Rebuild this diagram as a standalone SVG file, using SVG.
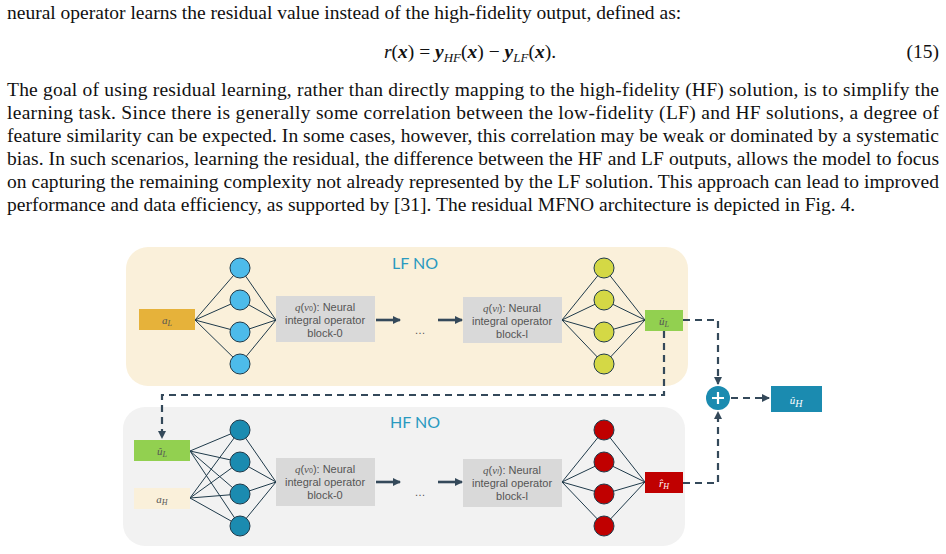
<svg xmlns="http://www.w3.org/2000/svg" width="946" height="554" viewBox="0 0 946 554">
<style>
.p{font-family:"Liberation Serif",serif;font-size:19.5px;fill:#111}
.m{font-family:"Liberation Serif",serif;font-style:italic}
.c{stroke:#1f3a4a;stroke-width:1;fill:none}
.blk{fill:#d9d9d9}
.bt{font-family:"Liberation Sans",sans-serif;font-size:11px;fill:#555;text-anchor:middle}
.ttl{font-family:"Lato",sans-serif;font-size:16px;fill:#2a9ac0;text-anchor:middle}
.lab{font-family:"Liberation Serif",serif;font-style:italic;font-size:11px;text-anchor:middle}
.d{stroke:#34495a;stroke-width:2.2;stroke-dasharray:7 5;fill:none}
.s{stroke:#34495a;stroke-width:2.6;fill:none}
</style>
<defs>
<marker id="ah" markerWidth="8" markerHeight="8" refX="7" refY="4" orient="auto" markerUnits="userSpaceOnUse"><path d="M0,0L8,4L0,8Z" fill="#34495a"/></marker>
</defs>
<g id="text">
<text class="p" x="7" y="19">neural operator learns the residual value instead of the high-fidelity output, defined as:</text>
<text class="p" x="470" y="58" text-anchor="middle"><tspan class="m">r</tspan>(<tspan font-weight="bold" class="m">x</tspan>) = <tspan font-weight="bold" class="m">y</tspan><tspan class="m" font-size="13" dy="4">HF</tspan><tspan dy="-4">(</tspan><tspan font-weight="bold" class="m">x</tspan>) − <tspan font-weight="bold" class="m">y</tspan><tspan class="m" font-size="13" dy="4">LF</tspan><tspan dy="-4">(</tspan><tspan font-weight="bold" class="m">x</tspan>).</text>
<text class="p" x="939" y="58" text-anchor="end">(15)</text>
<text class="p" x="7" y="96" textLength="932" lengthAdjust="spacing">The goal of using residual learning, rather than directly mapping to the high-fidelity (HF) solution, is to simplify the</text>
<text class="p" x="7" y="119" textLength="932" lengthAdjust="spacing">learning task. Since there is generally some correlation between the low-fidelity (LF) and HF solutions, a degree of</text>
<text class="p" x="7" y="142" textLength="932" lengthAdjust="spacing">feature similarity can be expected. In some cases, however, this correlation may be weak or dominated by a systematic</text>
<text class="p" x="7" y="165" textLength="932" lengthAdjust="spacing">bias. In such scenarios, learning the residual, the difference between the HF and LF outputs, allows the model to focus</text>
<text class="p" x="7" y="188" textLength="932" lengthAdjust="spacing">on capturing the remaining complexity not already represented by the LF solution. This approach can lead to improved</text>
<text class="p" x="7" y="211">performance and data efficiency, as supported by [31]. The residual MFNO architecture is depicted in Fig. 4.</text>
</g>
<g id="lf-panel"><rect x="126" y="247" width="562" height="139" rx="22" fill="#faf0da"/><text class="ttl" x="415" y="269">LF NO</text></g>
<g id="hf-panel"><rect x="123" y="407" width="562" height="139" rx="22" fill="#f2f2f2"/><text class="ttl" x="415" y="428">HF NO</text></g>
<g id="connectors">
<path class="c" d="M195,320L240,268L276,320M195,320L240,300L276,320M195,320L240,332L276,320M195,320L240,364L276,320"/>
<path class="c" d="M562,320L604,268L645,320M562,320L604,300L645,320M562,320L604,332L645,320M562,320L604,364L645,320"/>
<path class="c" d="M190,451L240,430M190,451L240,462M190,451L240,494M190,451L240,526M190,498L240,430M190,498L240,462M190,498L240,494M190,498L240,526"/>
<path class="c" d="M240,430L276,482M240,462L276,482M240,494L276,482M240,526L276,482"/>
<path class="c" d="M562,482L604,430L645,482M562,482L604,462L645,482M562,482L604,494L645,482M562,482L604,526L645,482"/>
<path class="s" d="M376,320H400" marker-end="url(#ah)"/>
<path class="s" d="M438,320H462" marker-end="url(#ah)"/>
<path class="s" d="M376,482H400" marker-end="url(#ah)"/>
<path class="s" d="M438,482H462" marker-end="url(#ah)"/>
<path class="d" d="M683,320H718V384" marker-end="url(#ah)"/>
<path class="d" d="M664,331V395H162V438" marker-end="url(#ah)"/>
<path class="d" d="M683,483H718V412" marker-end="url(#ah)"/>
<path class="d" d="M731,398H769" marker-end="url(#ah)"/>
</g>
<g id="lf-input"><rect x="139" y="309" width="56" height="21" fill="#e6b23a"/><text class="lab" x="167" y="324" fill="#555">a<tspan font-size="8" dy="2">L</tspan></text></g>
<g id="lf-layer1" fill="#4dbbea" stroke="#1f3a4a"><circle cx="240" cy="268" r="10"/><circle cx="240" cy="300" r="10"/><circle cx="240" cy="332" r="10"/><circle cx="240" cy="364" r="10"/></g>
<g id="lf-block0"><rect class="blk" x="276" y="296" width="99" height="46"/><text class="bt" x="325" y="311"><tspan font-family="Liberation Serif" font-style="italic">q</tspan>(<tspan font-family="Liberation Serif" font-style="italic">v</tspan><tspan font-size="7">0</tspan>): Neural</text><text class="bt" x="325" y="324">integral operator</text><text class="bt" x="325" y="337">block-0</text></g>
<g id="lf-dots"><text class="bt" x="420" y="334" font-size="16" fill="#444">…</text></g>
<g id="lf-blockl"><rect class="blk" x="463" y="297" width="99" height="46"/><text class="bt" x="512" y="312"><tspan font-family="Liberation Serif" font-style="italic">q</tspan>(<tspan font-family="Liberation Serif" font-style="italic">v</tspan><tspan font-size="7" font-style="italic">l</tspan>): Neural</text><text class="bt" x="512" y="325">integral operator</text><text class="bt" x="512" y="338">block-l</text></g>
<g id="lf-layer2" fill="#d4d845" stroke="#1f3a4a"><circle cx="604" cy="268" r="10"/><circle cx="604" cy="300" r="10"/><circle cx="604" cy="332" r="10"/><circle cx="604" cy="364" r="10"/></g>
<g id="lf-output"><rect x="645" y="310" width="38" height="21" fill="#92d050"/><text class="lab" x="664" y="325" fill="#555">û<tspan font-size="8" dy="2">L</tspan></text></g>
<g id="hf-input-u"><rect x="134" y="440" width="56" height="21" fill="#92d050"/><text class="lab" x="162" y="455" fill="#555">û<tspan font-size="8" dy="2">L</tspan></text></g>
<g id="hf-input-a"><rect x="134" y="488" width="56" height="21" fill="#faf0da"/><text class="lab" x="162" y="503" fill="#555">a<tspan font-size="8" dy="2">H</tspan></text></g>
<g id="hf-layer1" fill="#1b8bb0" stroke="#1f3a4a"><circle cx="240" cy="430" r="10"/><circle cx="240" cy="462" r="10"/><circle cx="240" cy="494" r="10"/><circle cx="240" cy="526" r="10"/></g>
<g id="hf-block0"><rect class="blk" x="276" y="458" width="99" height="48"/><text class="bt" x="325" y="473"><tspan font-family="Liberation Serif" font-style="italic">q</tspan>(<tspan font-family="Liberation Serif" font-style="italic">v</tspan><tspan font-size="7">0</tspan>): Neural</text><text class="bt" x="325" y="486">integral operator</text><text class="bt" x="325" y="499">block-0</text></g>
<g id="hf-dots"><text class="bt" x="420" y="496" font-size="16" fill="#444">…</text></g>
<g id="hf-blockl"><rect class="blk" x="463" y="459" width="99" height="48"/><text class="bt" x="512" y="474"><tspan font-family="Liberation Serif" font-style="italic">q</tspan>(<tspan font-family="Liberation Serif" font-style="italic">v</tspan><tspan font-size="7" font-style="italic">l</tspan>): Neural</text><text class="bt" x="512" y="487">integral operator</text><text class="bt" x="512" y="500">block-l</text></g>
<g id="hf-layer2" fill="#c00000" stroke="#1f3a4a"><circle cx="604" cy="430" r="10"/><circle cx="604" cy="462" r="10"/><circle cx="604" cy="494" r="10"/><circle cx="604" cy="526" r="10"/></g>
<g id="hf-output"><rect x="645" y="472" width="38" height="21" fill="#c00000"/><text class="lab" x="664" y="487" fill="#fff">r̂<tspan font-size="8" dy="2">H</tspan></text></g>
<g id="sum"><circle cx="718" cy="398" r="12" fill="#1b8bb0"/><path d="M712,398H724M718,392V404" stroke="#fff" stroke-width="2.2"/></g>
<g id="result"><rect x="771" y="386" width="51" height="26" fill="#1b8bb0"/><text class="lab" x="796" y="404" font-size="15" fill="#fff">û<tspan font-size="10" dy="3">H</tspan></text></g>
</svg>
